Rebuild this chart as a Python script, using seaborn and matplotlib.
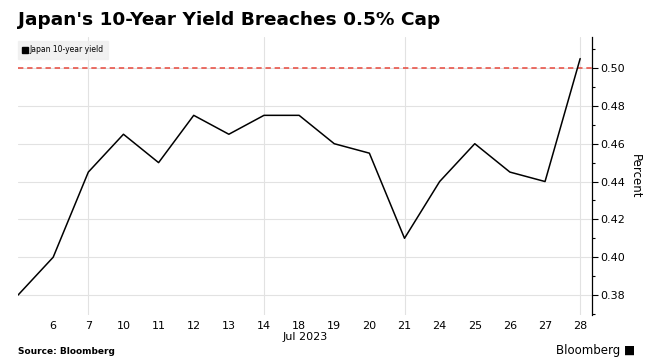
import seaborn as sns
import matplotlib.pyplot as plt
import pandas as pd
from matplotlib.lines import Line2D
from matplotlib.ticker import MultipleLocator

# Japan 10-year yield, July 2023 trading days
days = ["5", "6", "7", "10", "11", "12", "13", "14", "18", "19", "20",
        "21", "24", "25", "26", "27", "28"]
yields = [0.38, 0.40, 0.445, 0.465, 0.45, 0.475, 0.465, 0.475, 0.475, 0.46,
          0.455, 0.41, 0.44, 0.46, 0.445, 0.44, 0.505]
week_ends = ["7", "14", "21", "28"]
cap = 0.50

data = pd.DataFrame({"day": days, "yield": yields})
data["pos"] = range(len(days))

sns.set_style("white")
plt.rcParams['font.family'] = ['DejaVu Sans']
plt.rcParams['text.color'] = 'black'
plt.rcParams['xtick.color'] = 'black'
plt.rcParams['ytick.color'] = 'black'
plt.rcParams['axes.labelcolor'] = 'black'

fig = plt.figure(figsize=(6.45, 3.63), dpi=100)
ax = fig.add_axes([0.028, 0.132, 0.89, 0.766])

# weekly vertical gridlines
for d in week_ends:
    ax.axvline(days.index(d), color="#e2e2e2", lw=0.8, zorder=0)

sns.lineplot(data=data, x="pos", y="yield", color="black", lw=1.1,
             legend=False, ax=ax)
ax.axhline(cap, color="#e8473b", lw=1.1, ls=(0, (3.5, 2.5)), zorder=1)

ax.set_xlim(0, len(days) - 1 + 0.34)
ax.set_ylim(0.3694, 0.5164)
ax.set_xticks(data["pos"][1:])
ax.set_xticklabels(days[1:], fontsize=8)
ax.tick_params(axis="x", length=0, pad=4)

ax.yaxis.tick_right()
ax.yaxis.set_label_position("right")
ax.yaxis.set_major_locator(MultipleLocator(0.02))
ax.yaxis.set_minor_locator(MultipleLocator(0.01))
ax.yaxis.set_major_formatter(plt.FormatStrFormatter("%.2f"))
ax.tick_params(axis="y", which="major", length=4, width=0.8, labelsize=8, pad=2, right=True)
ax.tick_params(axis="y", which="minor", length=2.5, width=0.8, right=True)
ax.grid(axis="y", color="#e2e2e2", lw=0.8)
ax.set_axisbelow(True)
ax.set_ylabel("Percent", fontsize=8.5, rotation=270, labelpad=12)
ax.set_xlabel("Jul 2023", fontsize=8, labelpad=1)

for s in ["top", "left", "bottom"]:
    ax.spines[s].set_visible(False)
ax.spines["right"].set_color("black")
ax.spines["right"].set_linewidth(0.9)

handle = Line2D([], [], marker="s", color="black", ls="none", markersize=4)
leg = ax.legend([handle], ["Japan 10-year yield"], loc="upper left",
                bbox_to_anchor=(-0.006, 1.0), fontsize=5.5,
                handlelength=0.6, handletextpad=0.2, borderpad=0.6,
                frameon=True, fancybox=False)
leg.get_frame().set_facecolor("#eeeeee")
leg.get_frame().set_edgecolor("#eeeeee")

fig.text(0.028, 0.945, "Japan's 10-Year Yield Breaches 0.5% Cap",
         fontsize=13.3, fontweight="bold", va="center", ha="left")
fig.text(0.028, 0.032, "Source: Bloomberg", fontsize=6.5, fontweight="bold",
         va="center", ha="left")
fig.text(0.985, 0.034, "Bloomberg \u25a0", fontsize=8.5, va="center", ha="right")

fig.savefig("out.png", dpi=100)
